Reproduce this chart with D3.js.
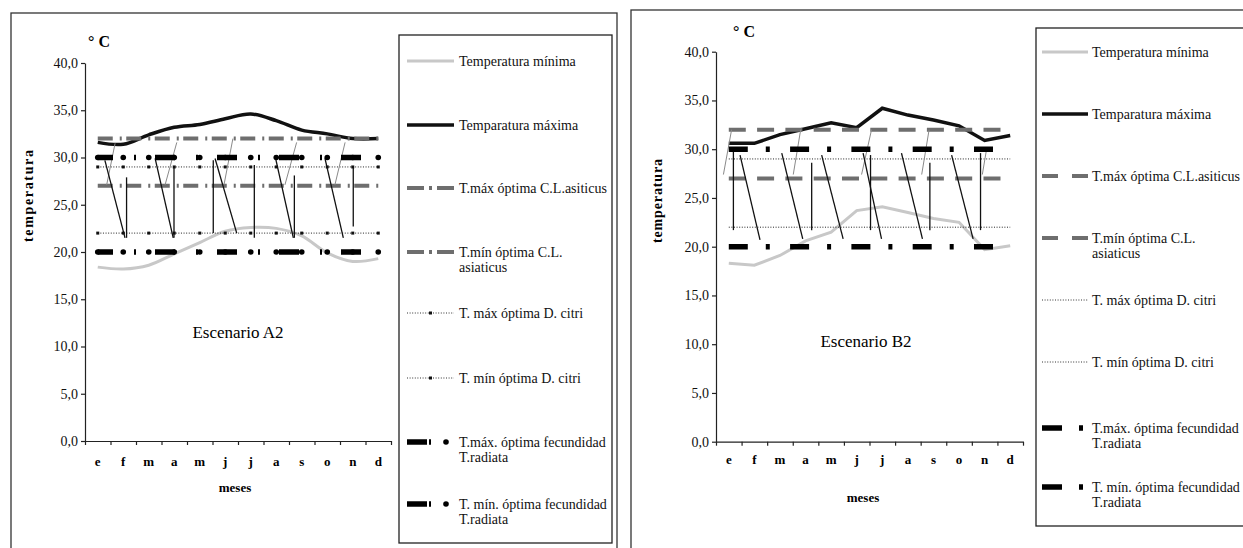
<!DOCTYPE html>
<html>
<head>
<meta charset="utf-8">
<script src="https://cdn.jsdelivr.net/npm/d3@7"></script>
<style>
  body { margin: 0; background: #fff; }
  svg { display: block; }
</style>
</head>
<body>
<svg width="1243" height="548"></svg>
<script>
const SERIF = "'Liberation Serif', 'Times New Roman', serif"

// data
const meses = ["e", "f", "m", "a", "m", "j", "j", "a", "s", "o", "n", "d"]
const ticksY = [0, 5, 10, 15, 20, 25, 30, 35, 40]

const tMinA2 = [18.4, 18.2, 18.6, 19.8, 21.0, 22.2, 22.6, 22.5, 21.7, 19.9, 19.0, 19.3]
const tMaxA2 = [31.6, 31.4, 32.4, 33.2, 33.5, 34.1, 34.6, 33.9, 32.9, 32.5, 32.0, 32.0]
const tMinB2 = [18.3, 18.1, 19.1, 20.6, 21.5, 23.7, 24.1, 23.5, 22.9, 22.5, 19.7, 20.1]
const tMaxB2 = [30.6, 30.6, 31.5, 32.1, 32.7, 32.2, 34.2, 33.5, 33.0, 32.4, 30.9, 31.4]

// óptimos: C.L. máx, C.L. mín, D. citri máx, D. citri mín, T. radiata máx, T. radiata mín
const optimos = [32, 27, 29, 22, 30, 20]

const etiquetas = [
    ["Temperatura mínima"],
    ["Temparatura máxima"],
    ["T.máx óptima C.L.asiticus"],
    ["T.mín óptima C.L.", "asiaticus"],
    ["T. máx óptima D. citri"],
    ["T. mín óptima D. citri"],
    ["T.máx. óptima fecundidad", "T.radiata"],
    ["T. mín. óptima fecundidad", "T.radiata"]
]
const tiposLeyenda = ["min", "max", "cl", "cl", "dc", "dc", "tr", "tr"]

// trazos sueltos del original [mes desde, temp desde, mes hasta, temp hasta]
const trazosNegrosA2 = [
    [0.28, 29.7, 1.07, 21.5], [1.13, 27.9, 1.13, 21.5],
    [2.25, 29.9, 2.96, 21.5], [2.99, 28.9, 2.99, 21.5],
    [4.53, 29.7, 4.53, 22.0], [4.6, 29.9, 5.45, 22.0],
    [6.14, 29.2, 6.14, 21.5], [6.95, 30.2, 7.67, 21.5],
    [7.71, 28.1, 7.71, 21.5], [8.91, 29.9, 9.63, 21.5],
    [10.02, 29.0, 10.02, 22.7]
]
const trazosGrisesA2 = [
    [0.68, 31.5, 0.35, 27.1], [3.1, 31.6, 2.64, 27.1], [5.3, 32.0, 4.95, 27.1],
    [7.8, 31.6, 7.34, 27.1], [9.7, 31.6, 9.3, 27.1]
]
const trazosNegrosB2 = [
    [0.18, 29.9, 0.18, 21.7], [0.44, 29.4, 1.22, 20.7],
    [2.07, 29.6, 2.89, 20.8], [3.24, 28.6, 3.24, 21.7],
    [3.63, 29.4, 4.47, 20.8], [5.25, 29.6, 5.97, 20.8],
    [5.54, 29.4, 5.54, 21.7], [6.75, 29.6, 7.57, 20.8],
    [7.86, 28.6, 7.86, 21.7], [8.71, 29.4, 9.55, 20.8],
    [9.84, 29.6, 9.84, 21.7]
]
const trazosGrisesB2 = [
    [0.11, 32.0, -0.21, 27.4], [2.81, 32.0, 2.52, 27.4], [5.58, 32.0, 5.19, 27.4],
    [7.83, 32.0, 7.54, 27.4], [10.07, 29.9, 9.91, 27.4]
]

const svg = d3.select("svg")
const fmt = d => d3.format(".1f")(d).replace(".", ",")

const panelA2 = {
    frame: [11, 13, 606, 600],
    x0: 85, x1: 391, y0: 441, y1: 63,
    tMin: tMinA2, tMax: tMaxA2,
    curva: d3.curveCatmullRom,
    curvaMin: d3.curveCatmullRom,
    negros: trazosNegrosA2, grises: trazosGrisesA2,
    marcas: true,
    clDash: "15,7,2,4.5", clOff: 0,
    trDash: "20,21,2,19", trOff: 4.75,
    titulo: "Escenario A2", tituloX: 238, tituloY: 338,
    gradosX: 88, gradosY: 47,
    ejeYX: 28, ejeYY: 196, ejeYLen: 92,
    mesY: 25, mesesX: 235, mesesY: 492,
    ley: [399, 35, 213, 508], legX: 407, legLen: 47, legTxt: 459,
    legY: [61, 125, 188, 252, 313, 378, 442, 504],
    clLeg: "17,5,3,5,17", trLeg: "20,2,2,100", trLegDot: 39
}
const panelB2 = {
    frame: [631, 10, 700, 600],
    x0: 716, x1: 1023, y0: 441.7, y1: 51.7,
    tMin: tMinB2, tMax: tMaxB2,
    curva: d3.curveLinear,
    curvaMin: d3.curveLinear,
    negros: trazosNegrosB2, grises: trazosGrisesB2,
    marcas: false,
    clDash: "17,11.3", clOff: 0,
    trDash: "19,18,4,20.3", trOff: 0,
    titulo: "Escenario B2", tituloX: 866, tituloY: 347,
    gradosX: 733, gradosY: 37,
    ejeYX: 657, ejeYY: 201, ejeYLen: 84,
    mesY: 22, mesesX: 863, mesesY: 502,
    ley: [1036, 28, 300, 498], legX: 1042, legLen: 46, legTxt: 1092,
    legY: [52, 114, 176, 238, 300, 362, 428, 487],
    clLeg: "16,14,16", trLeg: "20,17,4,100", trLegDot: null
}

function drawPanel(p) {
    const g = svg.append("g")

    g.append("rect")
        .attr("x", p.frame[0]).attr("y", p.frame[1])
        .attr("width", p.frame[2]).attr("height", p.frame[3])
        .attr("fill", "none").attr("stroke", "#333").attr("stroke-width", 1.3)

    const x = d3.scaleLinear().domain([-0.5, 11.5]).range([p.x0, p.x1])
    const y = d3.scaleLinear().domain([0, 40]).range([p.y0, p.y1])

    // ejes
    const ya = g.append("g")
        .attr("transform", "translate(" + p.x0 + ",0)")
        .call(d3.axisLeft(y).tickValues(ticksY).tickSize(4).tickSizeOuter(0).tickPadding(3).tickFormat(fmt))
    ya.selectAll("path, line").attr("stroke", "#222").attr("stroke-width", 1.2)
    ya.selectAll("text").attr("font-family", SERIF).attr("font-size", 14).attr("fill", "#111")

    const xa = g.append("g")
        .attr("transform", "translate(0," + p.y0 + ")")
        .call(d3.axisBottom(x).tickValues(d3.range(13).map(i => i - 0.5)).tickSize(4).tickSizeOuter(0).tickFormat(""))
    xa.selectAll("path, line").attr("stroke", "#222").attr("stroke-width", 1.2)

    g.selectAll("text.mes")
        .data(meses)
        .join("text")
        .attr("class", "mes")
        .attr("x", (d, i) => x(i))
        .attr("y", p.y0 + p.mesY)
        .attr("text-anchor", "middle")
        .attr("font-family", SERIF).attr("font-size", 13).attr("font-weight", "bold")
        .text(d => d)

    g.append("text")
        .attr("x", p.mesesX).attr("y", p.mesesY)
        .attr("text-anchor", "middle")
        .attr("font-family", SERIF).attr("font-size", 13).attr("font-weight", "bold")
        .text("meses")

    g.append("text")
        .attr("transform", "translate(" + (p.ejeYX + 5) + "," + p.ejeYY + ") rotate(-90)")
        .attr("text-anchor", "middle")
        .attr("font-family", SERIF).attr("font-size", 14).attr("font-weight", "bold")
        .attr("textLength", p.ejeYLen).attr("lengthAdjust", "spacing")
        .text("temperatura")

    g.append("text")
        .attr("x", p.gradosX).attr("y", p.gradosY)
        .attr("font-family", SERIF).attr("font-size", 16).attr("font-weight", "bold")
        .text("° C")

    g.append("text")
        .attr("x", p.tituloX).attr("y", p.tituloY)
        .attr("text-anchor", "middle")
        .attr("font-family", SERIF).attr("font-size", 17)
        .text(p.titulo)

    // series
    const linea = curva => d3.line().x((d, i) => x(i)).y(d => y(d)).curve(curva)
    const constante = v => meses.map(() => v)

    g.append("path").datum(p.tMin)
        .attr("d", linea(p.curvaMin))
        .attr("fill", "none").attr("stroke", "#c8c8c8").attr("stroke-width", 3)

    g.append("path").datum(p.tMax)
        .attr("d", linea(p.curva))
        .attr("fill", "none").attr("stroke", "#111").attr("stroke-width", 3.5)

    // C.L. asiaticus
    optimos.slice(0, 2).forEach(v => {
        g.append("path").datum(constante(v))
            .attr("d", linea(d3.curveLinear))
            .attr("fill", "none").attr("stroke", "#6e6e6e").attr("stroke-width", 4)
            .attr("stroke-dasharray", p.clDash).attr("stroke-dashoffset", p.clOff)
    })

    // D. citri
    optimos.slice(2, 4).forEach(v => {
        g.append("path").datum(constante(v))
            .attr("d", linea(d3.curveLinear))
            .attr("fill", "none").attr("stroke", "#222").attr("stroke-width", 1)
            .attr("stroke-dasharray", "1,1.6")
        if (p.marcas) {
            g.selectAll(null).data(constante(v)).join("rect")
                .attr("x", (d, i) => x(i) - 1.5).attr("y", d => y(d) - 1.5)
                .attr("width", 3).attr("height", 3).attr("fill", "#111")
        }
    })

    // trazos sueltos
    g.selectAll(null).data(p.grises).join("line")
        .attr("x1", d => x(d[0])).attr("y1", d => y(d[1]))
        .attr("x2", d => x(d[2])).attr("y2", d => y(d[3]))
        .attr("stroke", "#8a8a8a").attr("stroke-width", 1)
    g.selectAll(null).data(p.negros).join("line")
        .attr("x1", d => x(d[0])).attr("y1", d => y(d[1]))
        .attr("x2", d => x(d[2])).attr("y2", d => y(d[3]))
        .attr("stroke", "#111").attr("stroke-width", 1.3)

    // T. radiata
    optimos.slice(4, 6).forEach(v => {
        g.append("path").datum(constante(v))
            .attr("d", linea(d3.curveLinear))
            .attr("fill", "none").attr("stroke", "#000").attr("stroke-width", 5.5)
            .attr("stroke-dasharray", p.trDash).attr("stroke-dashoffset", p.trOff)
        if (p.marcas) {
            g.selectAll(null).data(constante(v)).join("circle")
                .attr("cx", (d, i) => x(i)).attr("cy", d => y(d))
                .attr("r", 2.8).attr("fill", "#000")
        }
    })

    // leyenda
    g.append("rect")
        .attr("x", p.ley[0]).attr("y", p.ley[1])
        .attr("width", p.ley[2]).attr("height", p.ley[3])
        .attr("fill", "none").attr("stroke", "#222").attr("stroke-width", 1.3)

    etiquetas.forEach((lab, k) => {
        const yy = p.legY[k]
        const x1 = p.legX, x2 = p.legX + p.legLen
        const tipo = tiposLeyenda[k]
        const s = g.append("line")
            .attr("x1", x1).attr("x2", x2).attr("y1", yy).attr("y2", yy)
        if (tipo === "min") s.attr("stroke", "#c8c8c8").attr("stroke-width", 3)
        if (tipo === "max") s.attr("stroke", "#111").attr("stroke-width", 3.5)
        if (tipo === "cl") s.attr("stroke", "#6e6e6e").attr("stroke-width", 4).attr("stroke-dasharray", p.clLeg)
        if (tipo === "dc") {
            s.attr("stroke", "#333").attr("stroke-width", 1).attr("stroke-dasharray", "1,1.6")
            if (p.marcas) {
                g.append("rect").attr("x", (x1 + x2) / 2 - 1.5).attr("y", yy - 1.5)
                    .attr("width", 3).attr("height", 3).attr("fill", "#111")
            }
        }
        if (tipo === "tr") {
            s.attr("stroke", "#000").attr("stroke-width", 5.5).attr("stroke-dasharray", p.trLeg)
            if (p.trLegDot) {
                g.append("circle").attr("cx", x1 + p.trLegDot).attr("cy", yy)
                    .attr("r", 2.8).attr("fill", "#000")
            }
        }

        const t = g.append("text")
            .attr("x", p.legTxt).attr("y", yy + 5)
            .attr("font-family", SERIF).attr("font-size", 14).attr("fill", "#111")
        lab.forEach((line, j) => {
            t.append("tspan").attr("x", p.legTxt).attr("dy", j === 0 ? 0 : 15).text(line)
        })
    })
}

drawPanel(panelA2)
drawPanel(panelB2)
</script>
</body>
</html>
